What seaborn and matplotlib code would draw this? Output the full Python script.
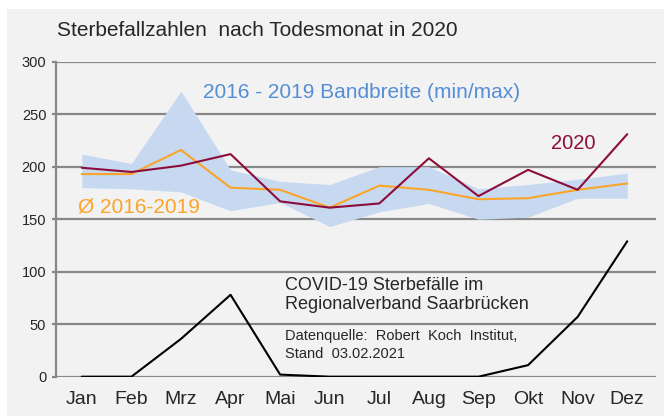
import numpy as np
import pandas as pd
import matplotlib
matplotlib.use("Agg")
import matplotlib.pyplot as plt
import seaborn as sns
from matplotlib.patches import Rectangle

monate = ["Jan", "Feb", "Mrz", "Apr", "Mai", "Jun", "Jul", "Aug", "Sep", "Okt", "Nov", "Dez"]
band_max = [212, 203, 272, 197, 186, 183, 200, 200, 179, 183, 188, 194]
band_min = [180, 179, 176, 158, 166, 143, 157, 165, 150, 152, 170, 170]
mittel_2016_2019 = [193, 193, 216, 180, 178, 161, 182, 178, 169, 170, 178, 184]
werte_2020 = [199, 195, 201, 212, 167, 161, 165, 208, 172, 197, 178, 231]
covid = [0, 0, 36, 78, 2, 0, 0, 0, 0, 11, 57, 129]

sns.set_style("white")
plt.rcParams["font.family"] = ["Liberation Sans", "DejaVu Sans"]

fig = plt.figure(figsize=(6.64, 4.16), dpi=100, facecolor="white")
# grauer Hintergrund
fig.patches.append(Rectangle((7 / 664, 0), 1, (416 - 9) / 416, transform=fig.transFigure,
                             facecolor="#f2f2f2", edgecolor="none", zorder=-10))
ax = fig.add_axes([56 / 664, 39.3 / 416, 600 / 664, 0.7572])
ax.set_facecolor("none")

x = np.arange(len(monate))
ax.fill_between(x, band_min, band_max, color="#c6d9f1", linewidth=0, zorder=1)

df = pd.DataFrame({"Monat": monate, "mittel": mittel_2016_2019, "j2020": werte_2020, "covid": covid})
sns.lineplot(data=df, x="Monat", y="mittel", color="#fba429", linewidth=1.5, ax=ax, zorder=3)
sns.lineplot(data=df, x="Monat", y="j2020", color="#8c0d3c", linewidth=1.5, ax=ax, zorder=4)
sns.lineplot(data=df, x="Monat", y="covid", color="black", linewidth=1.5, ax=ax, zorder=4)

ax.set_xlim(-0.52, 11.58)
ax.set_ylim(0, 300)
ax.set_yticks([0, 50, 100, 150, 200, 250, 300])
ax.yaxis.grid(True, color="#878787", linewidth=1.6)
ax.set_axisbelow(True)
for s in ["top", "right", "bottom"]:
    ax.spines[s].set_visible(False)
ax.spines["left"].set_color("#878787")
ax.spines["left"].set_linewidth(1.6)
ax.tick_params(axis="y", length=3, width=1.6, color="#878787", labelsize=10.5, pad=4, left=True)
ax.tick_params(axis="x", length=0, labelsize=14, pad=10)
ax.set_xlabel("")
ax.set_ylabel("")

fig.text(57 / 664, (416 - 30) / 416, "Sterbefallzahlen  nach Todesmonat in 2020",
         fontsize=15, va="center", ha="left")
ax.text(2.44, 271, "2016 - 2019 Bandbreite (min/max)", color="#558ed5", fontsize=15, va="center")
ax.text(9.46, 222, "2020", color="#8c0d3c", fontsize=14.5, va="center")
ax.text(-0.08, 161.6, "Ø 2016-2019", color="#fba429", fontsize=15, va="center")
ax.text(4.09, 86.7, "COVID-19 Sterbefälle im", fontsize=13, va="center")
ax.text(4.09, 68.3, "Regionalverband Saarbrücken", fontsize=13, va="center")
ax.text(4.09, 38.8, "Datenquelle:  Robert  Koch  Institut,", fontsize=10.5, va="center")
ax.text(4.09, 21.3, "Stand  03.02.2021", fontsize=10.5, va="center")

fig.savefig("out.png", dpi=100, facecolor="white")
